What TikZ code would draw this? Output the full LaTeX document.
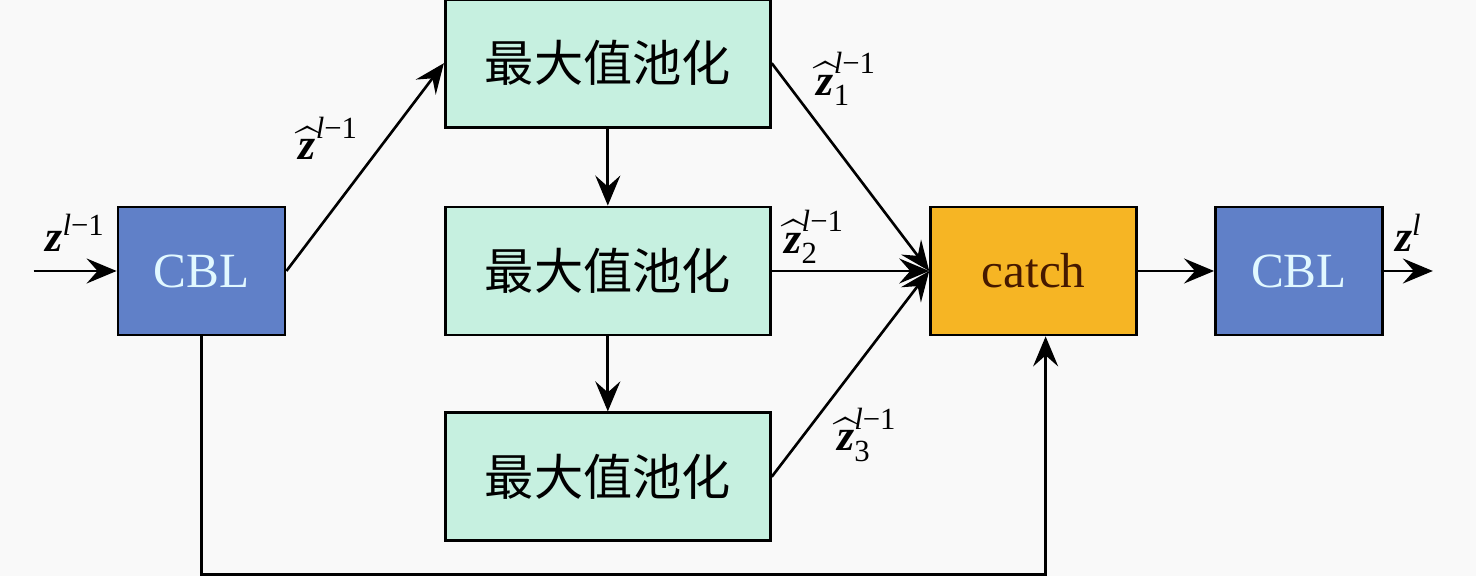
\documentclass[tikz,border=0pt]{standalone}
\usepackage{fontspec}
\setmainfont{Liberation Serif}
\newfontfamily\cjk{Noto Sans CJK SC}
\usepackage{amsmath}
\usetikzlibrary{positioning, arrows.meta}

\definecolor{cblblue}{RGB}{96,128,200}
\definecolor{cbltext}{RGB}{225,248,255}
\definecolor{poolgreen}{RGB}{198,240,224}
\definecolor{catchorange}{RGB}{246,181,36}
\definecolor{catchtext}{RGB}{70,25,0}
\definecolor{bggray}{RGB}{249,249,249}

\newcommand{\vz}{\text{\bfseries\itshape z}}
\newcommand{\lm}{\text{\itshape l\upshape −1}}

\begin{document}
\begin{tikzpicture}[
    > = {Stealth[length = 6mm, width = 5mm, inset = 2.2mm]},
    line width = 1.5pt,
    node distance = 3.15cm,
    block/.style = {rectangle, draw, line width = 1.6pt, minimum height = 2.56cm, font = \fontsize{28}{32}\selectfont},
    cbl/.style = {block, fill = cblblue, text = cbltext, minimum width = 3.34cm},
    pool/.style = {block, fill = poolgreen, minimum width = 6.5cm, font = \cjk\fontsize{28}{32}\selectfont},
    merge/.style = {block, fill = catchorange, text = catchtext, minimum width = 4.12cm},
    lbl/.style = {font = \fontsize{25}{28}\selectfont}
]

% Background
\useasboundingbox (0,0) rectangle (29.52,11.52);
\fill[bggray] (0,0) rectangle (29.52,11.52);

% Blocks
\node[cbl]                           (cbl1)  at (4.03,6.10) {CBL};
\node[pool, right = of cbl1]         (pool2) {最大值池化};
\node[pool, above = 1.54cm of pool2] (pool1) {最大值池化};
\node[pool, below = 1.5cm of pool2]  (pool3) {最大值池化};
\node[merge, right = of pool2]       (catch) {catch};
\node[cbl, right = 1.52cm of catch]  (cbl2)  {CBL};

\coordinate[left = 1.66cm of cbl1]  (in);
\coordinate[right = 0.98cm of cbl2] (out);

% Connections
\draw[->] (in) to node[above, yshift = 0.25cm, lbl] {$\vz^{\lm}$} (cbl1);
\draw[->] (cbl1.east) to node[above left, lbl] {$\widehat{\vz}^{\lm}$} (pool1.west);

\draw[->] (pool1) to (pool2);
\draw[->] (pool2) to (pool3);

\draw[->] (pool1.east) to node[pos = 0.24, above right, lbl] {$\widehat{\vz}^{\lm}_{\text{1}}$} (catch.west);
\draw[->] (pool2.east) to node[pos = 0.27, above, lbl] {$\widehat{\vz}^{\lm}_{\text{2}}$} (catch.west);
\draw[->] (pool3.east) to node[pos = 0.37, below right, lbl] {$\widehat{\vz}^{\lm}_{\text{3}}$} (catch.west);

\draw[->] (catch) to (cbl2);
\draw[->] (cbl2) to node[above, yshift = 0.25cm, lbl] {$\vz^{\text{\itshape l}}$} (out);

\draw[->] (cbl1.south) -- ++(0,-4.76) -| ([xshift = 0.24cm]catch.south);

\end{tikzpicture}
\end{document}
